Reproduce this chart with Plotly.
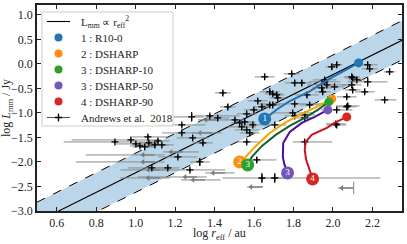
import numpy as np
import plotly.graph_objects as go

# ---------------- data ----------------
# Andrews et al. 2018 detections
det_logr = [0.895, 0.976, 1.001, 1.022, 1.046, 1.062, 1.067, 1.097, 1.113, 1.442,
            1.467, 1.284, 1.376, 1.416, 1.234, 1.503, 1.538, 1.654, 1.234, 1.289,
            1.133, 1.214, 1.325, 1.082, 1.275, 1.527, 1.553, 1.791, 1.806, 1.842,
            1.958, 1.994, 1.680, 1.695, 1.715, 1.720, 1.619, 1.640, 1.680, 1.695,
            1.806, 1.868, 1.882, 1.943, 1.948, 1.796, 1.857, 1.599, 1.563, 2.019,
            2.095, 2.100, 2.121, 2.095, 2.176, 2.186, 2.176, 2.287, 2.100, 2.161,
            2.262, 2.070, 2.070, 2.019, 1.969, 2.008, 1.958, 2.019, 2.075, 1.563,
            1.578, 1.594, 1.705, 1.806, 1.857, 1.614, 1.857, 1.640, 1.705, 2.014,
            1.341, 1.563, 1.163]
det_logL = [-1.592, -1.551, -1.633, -1.673, -1.694, -1.490, -1.612, -1.653, -1.571, -0.592,
            -0.878, -1.082, -1.061, -1.102, -1.245, -1.143, -1.286, -0.265, -1.408, -1.510,
            -1.653, -1.898, -2.000, -2.122, -2.163, -1.204, -1.184, -0.204, -0.388, -0.388,
            -0.367, -0.061, -0.571, -0.612, -0.633, -0.694, -0.755, -0.878, -0.837, -0.837,
            -0.816, -0.633, -0.837, -0.490, -0.571, -1.000, -1.041, -0.939, -1.020, -0.020,
            -0.265, -0.286, -0.327, -0.429, -0.020, -0.102, -0.367, -0.163, -0.531, -0.571,
            -0.735, -0.673, -0.878, -0.939, -0.429, -0.469, -0.327, -1.245, -0.857, -1.347,
            -1.408, -1.245, -1.245, -1.061, -1.102, -1.959, -1.592, -2.327, -2.327, -1.224,
            -1.612, -1.592, -2.122]
det_err_r_lo = [0.26, 0.30, 0.10, 0.05, 0.06, 0.08, 0.05, 0.07, 0.06, 0.04,
                0.04, 0.09, 0.08, 0.06, 0.12, 0.05, 0.07, 0.05, 0.10, 0.08,
                0.06, 0.10, 0.05, 0.12, 0.20, 0.04, 0.05, 0.04, 0.05, 0.05,
                0.08, 0.03, 0.05, 0.04, 0.04, 0.04, 0.05, 0.04, 0.05, 0.04,
                0.18, 0.06, 0.05, 0.05, 0.04, 0.10, 0.05, 0.05, 0.05, 0.03,
                0.04, 0.04, 0.04, 0.05, 0.05, 0.04, 0.10, 0.03, 0.04, 0.05,
                0.05, 0.05, 0.05, 0.08, 0.10, 0.05, 0.06, 0.05, 0.06, 0.06,
                0.05, 0.05, 0.06, 0.05, 0.05, 0.08, 0.06, 0.20, 0.06, 0.05,
                0.05, 0.05, 0.06]
det_err_r_hi = [0.22, 0.15, 0.10, 0.08, 0.06, 0.10, 0.05, 0.07, 0.06, 0.04,
                0.04, 0.06, 0.15, 0.06, 0.12, 0.05, 0.07, 0.05, 0.10, 0.08,
                0.06, 0.10, 0.05, 0.10, 0.18, 0.08, 0.05, 0.04, 0.05, 0.05,
                0.08, 0.03, 0.05, 0.05, 0.04, 0.04, 0.05, 0.04, 0.05, 0.04,
                0.18, 0.06, 0.05, 0.05, 0.04, 0.10, 0.05, 0.05, 0.05, 0.03,
                0.04, 0.04, 0.04, 0.05, 0.05, 0.04, 0.10, 0.03, 0.04, 0.05,
                0.06, 0.05, 0.05, 0.08, 0.10, 0.05, 0.06, 0.05, 0.06, 0.06,
                0.05, 0.05, 0.06, 0.05, 0.05, 0.10, 0.14, 0.60, 0.06, 0.05,
                0.05, 0.06, 0.06]
det_err_L = [0.03, 0.03, 0.03, 0.03, 0.03, 0.04, 0.03, 0.03, 0.03, 0.05,
             0.05, 0.10, 0.04, 0.03, 0.03, 0.04, 0.03, 0.05, 0.03, 0.06,
             0.03, 0.03, 0.08, 0.03, 0.03, 0.04, 0.04, 0.04, 0.06, 0.06,
             0.03, 0.06, 0.04, 0.03, 0.03, 0.04, 0.04, 0.03, 0.03, 0.03,
             0.03, 0.05, 0.04, 0.04, 0.05, 0.03, 0.03, 0.04, 0.03, 0.05,
             0.04, 0.04, 0.04, 0.05, 0.04, 0.06, 0.10, 0.04, 0.04, 0.04,
             0.04, 0.04, 0.04, 0.04, 0.04, 0.04, 0.04, 0.04, 0.06, 0.03,
             0.03, 0.03, 0.03, 0.04, 0.04, 0.05, 0.04, 0.10, 0.10, 0.04,
             0.04, 0.03, 0.03]

# Andrews et al. 2018 upper limits on r_eff
ul_logr = [1.416, 1.097, 1.239, 1.310, 1.351, 1.452, 1.644, 2.105, 1.097, 1.123, 1.123, 1.386]
ul_logL = [-1.143, -2.000, -1.796, -2.306, -2.367, -2.224, -2.510, -2.531, -1.857, -2.163, -2.327, -1.408]
ul_err_L = [0.00, 0.00, 0.00, 0.00, 0.00, 0.00, 0.00, 0.13, 0.00, 0.00, 0.00, 0.00]
ul_err_r_lo = [0.10, 0.40, 0.10, 0.30, 0.12, 0.10, 0.08, 0.08, 0.35, 0.20, 0.20, 0.10]
ul_err_r_hi = [0.05, 0.05, 0.08, 0.05, 0.08, 0.05, 0.00, 0.00, 0.05, 0.05, 0.05, 0.05]

# Lmm ~ r_eff^2 relation
rel_slope = 2.0
rel_intercept = -4.22
rel_scatter = 0.4

# Simulation tracks
tracks = [
    dict(label="1", name="1 : R10-0", line="#1f6fb4", dot="#1f77b4",
         logr=[1.654, 1.726, 1.781, 1.882, 1.984, 2.130],
         logL=[-1.122, -0.900, -0.760, -0.560, -0.300, 0.020]),
    dict(label="2", name="2 : DSHARP", line="#f5a300", dot="#ff8c0e",
         logr=[1.527, 1.553, 1.604, 1.680, 1.756, 1.832, 1.907, 1.994],
         logL=[-2.000, -1.918, -1.694, -1.408, -1.204, -1.041, -0.898, -0.714]),
    dict(label="3", name="3 : DSHARP-10", line="#14642a", dot="#2ca02c",
         logr=[1.568, 1.589, 1.640, 1.710, 1.781, 1.857, 1.923, 1.979],
         logL=[-2.061, -1.898, -1.673, -1.449, -1.265, -1.102, -0.939, -0.776]),
    dict(label="3", name="3 : DSHARP-50", line="#4a0f98", dot="#7356b8",
         logr=[1.770, 1.754, 1.746, 1.748, 1.781, 1.842, 1.907, 1.974],
         logL=[-2.224, -2.050, -1.898, -1.612, -1.388, -1.204, -1.082, -0.939]),
    dict(label="4", name="4 : DSHARP-90", line="#c8141e", dot="#d62728",
         logr=[1.897, 1.879, 1.864, 1.857, 1.862, 1.892, 1.969, 2.008, 2.070],
         logL=[-2.347, -2.150, -1.950, -1.755, -1.592, -1.449, -1.306, -1.204, -1.082]),
]
relation_label = "L<sub>mm</sub> ∝ r<sub>eff</sub><sup>2</sup>"
obs_label = "Andrews et al.  2018"

x_range = [0.5, 2.35]
y_range = [-3.0, 1.2]
x_ticks = [0.6, 0.8, 1.0, 1.2, 1.4, 1.6, 1.8, 2.0, 2.2]
y_ticks = [-3.0, -2.5, -2.0, -1.5, -1.0, -0.5, 0.0, 0.5, 1.0]

FONT = "Liberation Serif"
INK = "#222222"
W, H = 407, 244
ML, MR, MT, MB = 37, 5, 5, 33
fig = go.Figure()

# relation band
xr = np.array(x_range)
yc = rel_slope * xr + rel_intercept
fig.add_trace(go.Scatter(x=xr, y=yc - rel_scatter, mode="lines",
                         line=dict(color="black", width=1, dash="dash"),
                         hoverinfo="skip"))
fig.add_trace(go.Scatter(x=xr, y=yc + rel_scatter, mode="lines",
                         line=dict(color="black", width=1, dash="dash"),
                         fill="tonexty", fillcolor="rgba(31,119,180,0.3)",
                         hoverinfo="skip"))
fig.add_trace(go.Scatter(x=xr, y=yc, mode="lines",
                         line=dict(color="black", width=1.1), hoverinfo="skip"))

# upper limits
ul_r = np.array(ul_logr)
arrow_len = 0.06
fig.add_trace(go.Scatter(
    x=ul_r, y=ul_logL, mode="markers",
    marker=dict(size=1, color="rgba(0,0,0,0)"),
    error_x=dict(type="data", symmetric=False, array=ul_err_r_hi,
                 arrayminus=ul_err_r_lo, color="#8a8a8a", thickness=1, width=0),
    error_y=dict(type="data", array=ul_err_L, color="#8a8a8a", thickness=1, width=0),
    hoverinfo="skip"))
fig.add_trace(go.Scatter(
    x=ul_r, y=ul_logL, mode="markers",
    marker=dict(size=1, color="rgba(0,0,0,0)"),
    error_x=dict(type="data", symmetric=False, array=[0] * len(ul_r),
                 arrayminus=[arrow_len] * len(ul_r), color="#7a7a7a", thickness=1.3, width=0),
    hoverinfo="skip"))
fig.add_trace(go.Scatter(
    x=ul_r - arrow_len, y=ul_logL, mode="markers",
    marker=dict(symbol="triangle-left", size=5, color="#7a7a7a"),
    hoverinfo="skip"))

# detections
fig.add_trace(go.Scatter(
    x=det_logr, y=det_logL, mode="markers",
    marker=dict(size=1, color="rgba(0,0,0,0)"),
    error_x=dict(type="data", symmetric=False, array=det_err_r_hi,
                 arrayminus=det_err_r_lo, color="#8c8c8c", thickness=1, width=0),
    hoverinfo="skip"))
fig.add_trace(go.Scatter(
    x=det_logr, y=det_logL, mode="markers",
    marker=dict(symbol="cross-thin", size=5, line=dict(color="black", width=1.3)),
    error_y=dict(type="data", array=det_err_L, color="black", thickness=1.1, width=0),
    hoverinfo="skip"))

# tracks
for t in tracks:
    fig.add_trace(go.Scatter(x=t["logr"], y=t["logL"], mode="lines",
                             line=dict(color=t["line"], width=2), hoverinfo="skip"))
    fig.add_trace(go.Scatter(x=[t["logr"][-1]], y=[t["logL"][-1]], mode="markers",
                             marker=dict(size=9, color=t["dot"]), hoverinfo="skip"))
    fig.add_trace(go.Scatter(x=[t["logr"][0]], y=[t["logL"][0]], mode="markers+text",
                             marker=dict(size=13, color=t["dot"]),
                             text=[t["label"]], textposition="middle center",
                             textfont=dict(color="white", size=9, family=FONT),
                             hoverinfo="skip"))

# ---------------- legend (drawn on an overlay axis measured in pixels) ----------------
lg_left, lg_right, lg_top, lg_bottom = 42, 173, 12, 126
row0, row_step = 21.5, 16
sym_x0, sym_x1, txt_x = 47, 70, 79
sym_xc = (sym_x0 + sym_x1) / 2
ov = dict(xaxis="x2", yaxis="y2", hoverinfo="skip")
fig.add_trace(go.Scatter(x=[lg_left, lg_right, lg_right, lg_left, lg_left],
                         y=[lg_top, lg_top, lg_bottom, lg_bottom, lg_top],
                         mode="lines", fill="toself", fillcolor="rgba(255,255,255,0.85)",
                         line=dict(color="#cccccc", width=1), **ov))
rows_y = [row0 + row_step * k for k in range(2 + len(tracks))]
fig.add_trace(go.Scatter(x=[sym_x0, sym_x1], y=[rows_y[0], rows_y[0]], mode="lines",
                         line=dict(color="black", width=1.1), **ov))
legend_texts = [(rows_y[0], relation_label)]
for k, t in enumerate(tracks):
    fig.add_trace(go.Scatter(x=[sym_xc], y=[rows_y[k + 1]], mode="markers",
                             marker=dict(size=8, color=t["dot"]), **ov))
    legend_texts.append((rows_y[k + 1], t["name"]))
fig.add_trace(go.Scatter(x=[sym_xc], y=[rows_y[-1]], mode="markers",
                         marker=dict(symbol="cross-thin", size=5, line=dict(color="black", width=1.3)),
                         error_x=dict(type="constant", value=(sym_x1 - sym_x0) / 2,
                                      color="#555555", thickness=1.1, width=0),
                         error_y=dict(type="constant", value=4, color="black",
                                      thickness=1.1, width=0), **ov))
legend_texts.append((rows_y[-1], obs_label))

annotations = [
    dict(text=txt, xref="x2", yref="y2", x=txt_x, y=yy, xanchor="left", yanchor="middle",
         showarrow=False, font=dict(family=FONT, size=11, color=INK))
    for yy, txt in legend_texts
]
annotations += [
    dict(text="log <i>r</i><sub>eff</sub> / au", xref="paper", yref="paper",
         x=0.5, y=0, xanchor="center", yanchor="top", yshift=-13,
         showarrow=False, font=dict(family=FONT, size=12, color=INK)),
    dict(text="log <i>L</i><sub>mm</sub> / Jy", xref="paper", yref="paper",
         x=0, y=0.5, xanchor="right", yanchor="middle", xshift=-20,
         textangle=-90, showarrow=False, font=dict(family=FONT, size=12, color=INK)),
]

axis_common = dict(showline=True, linecolor=INK, linewidth=1.5, mirror="ticks",
                   ticks="inside", ticklen=4, tickcolor=INK, tickwidth=1,
                   showgrid=False, zeroline=False, automargin=False,
                   tickfont=dict(family=FONT, size=12, color=INK))
fig.update_xaxes(range=x_range, tickvals=x_ticks, tickformat=".1f", **axis_common)
fig.update_yaxes(range=y_range, tickvals=y_ticks, tickformat=".1f", **axis_common)

fig.update_layout(
    width=W, height=H,
    margin=dict(l=ML, r=MR, t=MT, b=MB),
    paper_bgcolor="white", plot_bgcolor="white",
    font=dict(family=FONT, size=12, color=INK),
    showlegend=False,
    xaxis2=dict(overlaying="x", range=[ML, W - MR], visible=False, fixedrange=True),
    yaxis2=dict(overlaying="y", range=[H - MB, MT], visible=False, fixedrange=True),
    annotations=annotations,
)

fig.write_html("out.html", config={"displayModeBar": False},
               post_script="document.body.style.margin='0px';document.body.style.overflow='hidden';")
